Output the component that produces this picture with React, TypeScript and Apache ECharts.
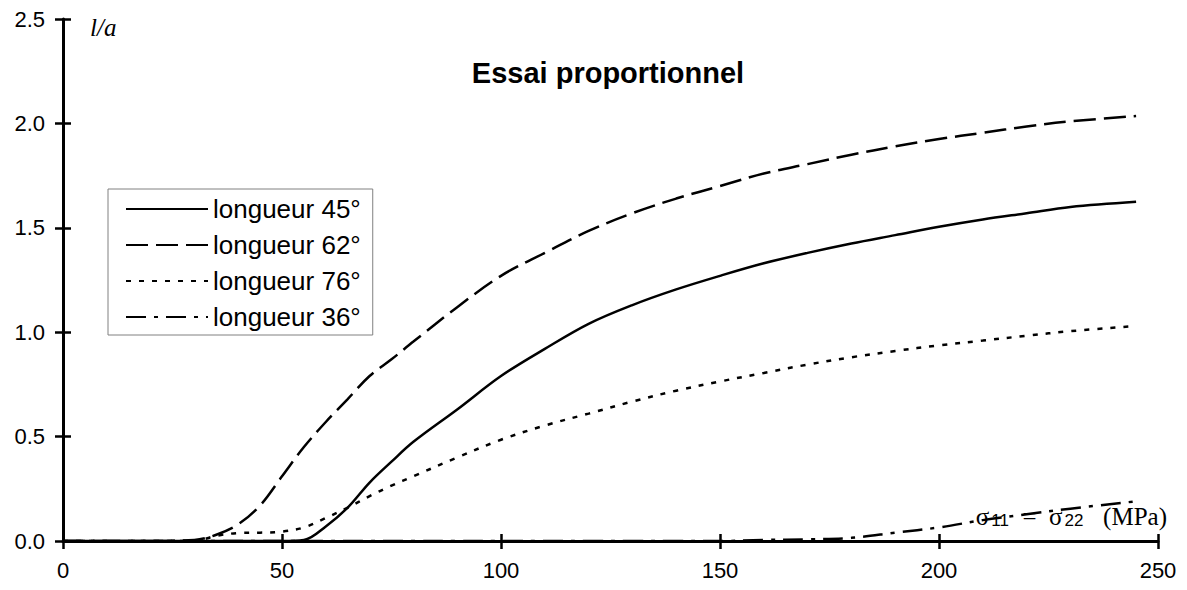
import React, { useEffect, useRef } from "react";
import * as echarts from "echarts";

// σ11 = σ22 (MPa) sample positions
const sigma = [0, 10, 20, 30, 35, 40, 45, 50, 55, 60, 65, 70, 75, 80, 90, 100, 110, 120, 130, 140, 150, 160, 170, 180, 190, 200, 210, 220, 230, 245];

const len45 = [0, 0, 0, 0, 0, 0, 0, 0, 0.005, 0.07, 0.16, 0.28, 0.38, 0.475, 0.63, 0.79, 0.92, 1.04, 1.13, 1.205, 1.27, 1.33, 1.38, 1.425, 1.465, 1.505, 1.54, 1.57, 1.6, 1.625];
const len62 = [0, 0, 0, 0.005, 0.03, 0.08, 0.17, 0.31, 0.45, 0.57, 0.68, 0.79, 0.87, 0.955, 1.12, 1.27, 1.38, 1.485, 1.57, 1.64, 1.7, 1.76, 1.805, 1.85, 1.89, 1.925, 1.955, 1.985, 2.01, 2.035];
const len76 = [0, 0, 0, 0, 0.025, 0.038, 0.04, 0.045, 0.065, 0.11, 0.16, 0.215, 0.265, 0.31, 0.4, 0.485, 0.553, 0.61, 0.668, 0.72, 0.764, 0.805, 0.845, 0.88, 0.91, 0.937, 0.96, 0.983, 1.005, 1.03];
const len36 = [0, 0, 0, 0, 0, 0, 0, 0, 0, 0, 0, 0, 0, 0, 0, 0, 0, 0, 0, 0, 0, 0.005, 0.008, 0.015, 0.04, 0.065, 0.1, 0.128, 0.155, 0.19];

const seriesNames = ["longueur 45°", "longueur 62°", "longueur 76°", "longueur 36°"];
const xTicks = { min: 0, max: 250, interval: 50 };
const yTicks = { min: 0, max: 2.5, interval: 0.5 };

const SANS = "'Liberation Sans', Arial, sans-serif";
const SERIF = "'Liberation Serif', 'Times New Roman', serif";

export default function App() {
  const ref = useRef<HTMLDivElement>(null);

  useEffect(() => {
    if (!ref.current) return;
    const chart = echarts.init(ref.current, undefined, { renderer: "svg" });

    const pairs = (ys: number[]) => sigma.map((x, i) => [x, ys[i]]);
    const dashes: (number[] | "solid")[] = ["solid", [22, 8], [5, 8], [20, 8, 4, 8]];
    const values = [len45, len62, len76, len36];

    const series = values.map((v, i) => ({
      name: seriesNames[i],
      type: "line",
      data: pairs(v),
      showSymbol: false,
      symbol: "none",
      smooth: 0.35,
      z: 3,
      lineStyle: { color: "#000", width: 2.5, type: dashes[i] },
      itemStyle: { color: "#000" },
    }));

    chart.setOption({
      animation: false,
      backgroundColor: "#fff",
      grid: { left: 63, top: 19, width: 1095, height: 522, containLabel: false },
      legend: {
        orient: "vertical",
        left: 108,
        top: 189,
        data: seriesNames,
        borderColor: "#808080",
        borderWidth: 1,
        backgroundColor: "#fff",
        padding: [6, 12, 4, 17],
        itemWidth: 82,
        itemHeight: 14,
        itemGap: 8,
        itemStyle: { opacity: 0 },
        textStyle: { fontFamily: SANS, fontSize: 26, lineHeight: 28, color: "#000" },
      },
      xAxis: [
        {
          type: "value",
          ...xTicks,
          position: "bottom",
          splitLine: { show: false },
          axisLine: { onZero: false, lineStyle: { color: "#000", width: 3 } },
          axisTick: { show: true, length: 8, lineStyle: { color: "#000", width: 2.5 } },
          axisLabel: { color: "#000", fontFamily: SANS, fontSize: 22, margin: 18 },
        },
        {
          type: "value",
          ...xTicks,
          position: "bottom",
          splitLine: { show: false },
          axisLine: { show: false, onZero: false },
          axisTick: { show: true, inside: true, length: 7, lineStyle: { color: "#000", width: 2.5 } },
          axisLabel: { show: false },
        },
      ],
      yAxis: [
        {
          type: "value",
          ...yTicks,
          position: "left",
          splitLine: { show: false },
          axisLine: { show: true, onZero: false, lineStyle: { color: "#000", width: 3 } },
          axisTick: { show: true, length: 8, lineStyle: { color: "#000", width: 2.5 } },
          axisLabel: {
            color: "#000",
            fontFamily: SANS,
            fontSize: 22,
            margin: 18,
            formatter: (v: number) => v.toFixed(1),
          },
        },
        {
          type: "value",
          ...yTicks,
          position: "left",
          splitLine: { show: false },
          axisLine: { show: false, onZero: false },
          axisTick: { show: true, inside: true, length: 8, lineStyle: { color: "#000", width: 2.5 } },
          axisLabel: { show: false },
        },
      ],
      graphic: [
        {
          type: "text",
          x: 608,
          y: 73,
          style: {
            text: "Essai proportionnel",
            fontFamily: SANS,
            fontWeight: "bold",
            fontSize: 29,
            fill: "#000",
            textAlign: "center",
            textVerticalAlign: "middle",
          },
        },
        {
          type: "text",
          x: 90,
          y: 27,
          style: {
            text: "l/a",
            fontFamily: SERIF,
            fontStyle: "italic",
            fontSize: 25,
            fill: "#000",
            textAlign: "left",
            textVerticalAlign: "middle",
          },
        },
        {
          type: "text",
          x: 1167,
          y: 529,
          z: 10,
          style: {
            text: "{s|σ}{sub|11}{s|  =  σ}{sub|22}{s|   (MPa)}",
            textAlign: "right",
            textVerticalAlign: "bottom",
            fill: "#000",
            rich: {
              s: {
                fontFamily: SERIF,
                fontSize: 25,
                font: "25px 'Liberation Serif'",
                lineHeight: 27,
                verticalAlign: "bottom",
                fill: "#000",
              },
              sub: {
                fontFamily: SANS,
                fontSize: 17,
                font: "17px 'Liberation Sans'",
                lineHeight: 16,
                verticalAlign: "bottom",
                fill: "#000",
                padding: [0, 1, 0, 2],
              },
            },
          },
        },
      ],
      series,
    });

    return () => chart.dispose();
  }, []);

  return (
    <div
      ref={ref}
      style={{ position: "fixed", left: 0, top: 0, width: 1187, height: 590, background: "#fff" }}
    />
  );
}
